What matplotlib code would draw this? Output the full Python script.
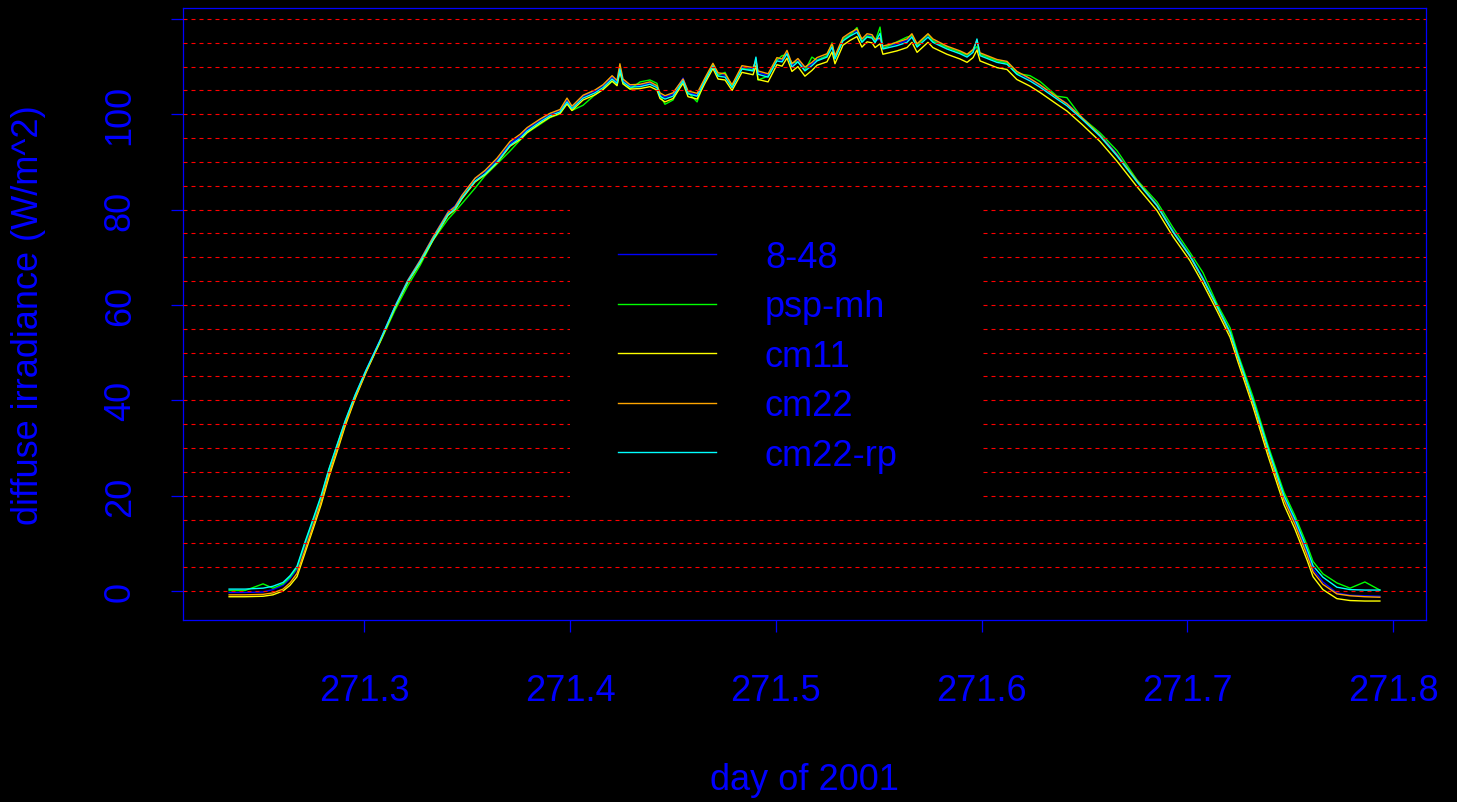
import matplotlib
matplotlib.use('Agg')
import matplotlib.pyplot as plt
from matplotlib.patches import Rectangle

plt.rcParams['font.family'] = ['Liberation Sans', 'DejaVu Sans']

# day of year (fractional) shared by all instruments
day = [271.2343, 271.2420, 271.2508, 271.2556, 271.2605, 271.2639, 271.2673, 271.2712, 271.2751, 271.2790,
       271.2828, 271.2867, 271.2906, 271.2955, 271.3008, 271.3076, 271.3149, 271.3212, 271.3271, 271.3334,
       271.3407, 271.3441, 271.3475, 271.3538, 271.3586, 271.3645, 271.3708, 271.3757, 271.3791, 271.3854,
       271.3902, 271.3951, 271.3985, 271.4009, 271.4063, 271.4121, 271.4160, 271.4204, 271.4228, 271.4242,
       271.4257, 271.4291, 271.4340, 271.4388, 271.4422, 271.4437, 271.4461, 271.4500, 271.4549, 271.4573,
       271.4617, 271.4655, 271.4694, 271.4719, 271.4753, 271.4787, 271.4835, 271.4889, 271.4903, 271.4913,
       271.4962, 271.5005, 271.5030, 271.5054, 271.5078, 271.5107, 271.5141, 271.5175, 271.5200, 271.5248,
       271.5273, 271.5287, 271.5326, 271.5360, 271.5394, 271.5418, 271.5443, 271.5467, 271.5482, 271.5506,
       271.5520, 271.5588, 271.5637, 271.5661, 271.5686, 271.5739, 271.5763, 271.5831, 271.5895, 271.5929,
       271.5958, 271.5977, 271.5992, 271.6074, 271.6123, 271.6171, 271.6235, 271.6283, 271.6366, 271.6414,
       271.6487, 271.6575, 271.6657, 271.6755, 271.6852, 271.6930, 271.7012, 271.7075, 271.7143, 271.7207,
       271.7245, 271.7318, 271.7391, 271.7469, 271.7522, 271.7581, 271.7610, 271.7658, 271.7726, 271.7790,
       271.7862, 271.7935]

s_848 = [-0.3, -0.3, -0.2, 0.3, 1.2, 2.6, 4.6, 9.6, 14.5, 19.5,
         25.2, 30.3, 35.4, 41.0, 46.3, 52.6, 59.8, 65.3, 69.4, 74.3,
         79.6, 80.8, 83.1, 86.5, 88.0, 90.5, 93.9, 95.4, 96.9, 98.8,
         100.0, 100.9, 102.9, 101.6, 103.8, 104.9, 106.0, 107.8, 106.9, 109.7,
         107.2, 106.0, 106.1, 106.6, 105.9, 104.2, 103.6, 104.2, 107.6, 104.6,
         104.0, 107.4, 110.4, 108.4, 108.2, 106.0, 109.9, 109.5, 111.0, 108.8,
         108.2, 111.6, 111.3, 113.0, 110.3, 111.5, 109.6, 110.6, 111.5, 112.3,
         114.5, 112.0, 115.8, 116.8, 117.6, 115.4, 116.6, 116.4, 115.4, 115.8,
         114.0, 114.8, 115.5, 116.6, 114.5, 116.6, 115.5, 114.1, 113.1, 112.4,
         113.4, 114.0, 112.7, 111.3, 110.9, 108.8, 107.4, 106.1, 103.6, 102.3,
         99.4, 95.8, 91.7, 86.2, 81.1, 75.6, 70.5, 65.7, 60.0, 54.4,
         49.4, 40.0, 29.9, 19.7, 14.6, 8.1, 4.6, 1.9, -0.4, -0.9,
         -1.0, -1.1]

s_pspmh = [0.1, 0.1, 1.5, 0.6, 1.5, 2.9, 4.9, 10.0, 14.8, 19.7,
           25.4, 30.4, 35.4, 40.9, 46.1, 52.1, 58.9, 64.1, 68.3, 73.6,
           78.0, 79.6, 81.3, 84.5, 87.1, 89.6, 92.3, 94.6, 96.1, 97.9,
           99.3, 100.1, 102.2, 100.8, 101.9, 104.1, 105.2, 106.9, 106.1, 109.2,
           106.4, 105.3, 106.8, 107.2, 106.5, 104.0, 102.1, 103.0, 107.0, 104.6,
           102.6, 107.2, 110.3, 108.2, 108.8, 105.8, 109.6, 109.3, 111.6, 107.2,
           108.0, 111.4, 112.3, 112.5, 110.8, 111.0, 109.2, 112.0, 111.3, 112.3,
           115.0, 111.8, 115.7, 116.6, 118.2, 115.3, 116.4, 116.2, 115.2, 118.3,
           113.8, 115.2, 116.2, 116.5, 114.4, 116.8, 115.4, 114.0, 113.0, 112.4,
           113.5, 114.2, 112.6, 111.2, 110.8, 108.6, 108.1, 106.9, 103.8, 103.5,
           99.3, 96.1, 92.4, 86.2, 81.6, 76.2, 71.0, 66.8, 60.3, 55.2,
           49.8, 40.8, 30.6, 20.7, 15.8, 9.6, 6.2, 3.6, 1.7, 0.6,
           1.9, 0.2]

s_cm11 = [-1.2, -1.2, -1.1, -0.8, 0.0, 1.2, 3.0, 8.0, 13.0, 18.1,
          23.9, 29.1, 34.5, 40.3, 45.8, 52.2, 59.4, 64.8, 68.8, 73.6,
          78.8, 80.0, 82.3, 85.8, 87.3, 89.8, 93.3, 94.7, 96.2, 98.1,
          99.4, 100.2, 102.2, 100.8, 103.0, 104.1, 105.2, 107.0, 106.0, 109.0,
          106.4, 105.3, 105.4, 105.8, 105.1, 103.3, 102.6, 103.3, 106.5, 103.7,
          103.2, 106.5, 109.6, 107.4, 107.2, 105.0, 108.8, 108.3, 110.2, 107.3,
          106.8, 110.4, 110.1, 111.8, 109.0, 110.0, 108.0, 109.2, 110.3, 111.0,
          113.1, 110.6, 114.5, 115.5, 116.3, 114.1, 115.2, 115.0, 114.0, 114.8,
          112.6, 113.3, 114.0, 115.1, 113.0, 115.1, 114.0, 112.6, 111.6, 110.9,
          111.9, 113.5, 111.2, 109.8, 109.4, 107.3, 105.9, 104.6, 102.1, 100.7,
          97.9, 94.3, 90.2, 84.8, 79.8, 74.3, 69.3, 64.5, 58.8, 53.2,
          48.1, 38.7, 28.4, 18.1, 13.0, 6.5, 3.0, 0.3, -1.6, -2.0,
          -2.1, -2.1]

s_cm22 = [-0.8, -0.8, -0.7, -0.4, 0.4, 1.7, 3.7, 8.6, 13.6, 18.7,
          24.5, 29.6, 34.9, 40.6, 46.0, 52.4, 59.6, 65.2, 69.3, 74.2,
          79.4, 80.6, 83.0, 86.6, 88.2, 90.8, 94.3, 95.8, 97.2, 99.0,
          100.2, 101.0, 103.4, 101.7, 104.0, 105.1, 106.2, 108.1, 107.1, 110.6,
          107.4, 106.2, 106.3, 106.8, 106.0, 104.5, 103.9, 104.5, 107.4, 104.9,
          104.4, 107.6, 110.7, 108.7, 108.5, 106.2, 110.2, 109.8, 111.2, 109.1,
          108.5, 111.9, 111.6, 113.4, 110.6, 111.7, 109.9, 110.9, 111.9, 112.7,
          114.8, 112.3, 116.1, 117.1, 117.9, 115.8, 116.9, 116.7, 115.7, 116.0,
          114.3, 115.1, 115.8, 116.9, 114.8, 116.9, 115.8, 114.3, 113.3, 112.6,
          113.6, 115.5, 112.9, 111.5, 111.1, 109.0, 107.5, 106.2, 103.6, 102.2,
          99.3, 95.6, 91.5, 86.0, 80.9, 75.3, 70.2, 65.4, 59.6, 54.0,
          48.9, 39.5, 29.3, 19.1, 14.0, 7.5, 4.0, 1.4, -0.6, -1.0,
          -1.2, -1.3]

s_cm22rp = [0.4, 0.4, 0.6, 1.0, 1.8, 3.2, 5.2, 10.3, 15.1, 20.0,
            25.6, 30.6, 35.6, 41.1, 46.3, 52.5, 59.6, 65.0, 69.0, 73.8,
            79.0, 80.2, 82.5, 86.0, 87.5, 90.0, 93.5, 95.0, 96.5, 98.4,
            99.7, 100.5, 102.6, 101.2, 103.4, 104.5, 105.6, 107.4, 106.5, 109.5,
            106.8, 105.7, 105.8, 106.3, 105.6, 103.8, 103.2, 103.8, 107.0, 104.3,
            103.8, 107.0, 110.1, 108.0, 107.8, 105.6, 109.5, 109.1, 112.0, 108.4,
            107.8, 111.2, 111.0, 112.7, 109.9, 111.0, 109.1, 110.2, 111.2, 112.0,
            114.1, 111.6, 115.4, 116.4, 117.2, 115.1, 116.2, 116.0, 115.0, 117.0,
            113.7, 114.4, 115.1, 116.2, 114.1, 116.2, 115.1, 113.7, 112.7, 112.0,
            113.0, 115.8, 112.3, 110.9, 110.5, 108.4, 107.0, 105.7, 103.2, 101.8,
            99.0, 95.4, 91.3, 85.8, 80.8, 75.3, 70.3, 65.5, 59.8, 54.3,
            49.3, 40.0, 30.0, 20.0, 15.1, 8.8, 5.3, 2.9, 0.8, 0.3,
            0.2, 0.2]

series_names = ['8-48', 'psp-mh', 'cm11', 'cm22', 'cm22-rp']
series_colors = ['#0000ff', '#00ff00', '#ffff00', '#ffa500', '#00ffff']
series_data = [s_848, s_pspmh, s_cm11, s_cm22, s_cm22rp]

x_ticks = [271.3, 271.4, 271.5, 271.6, 271.7, 271.8]
y_ticks = [0, 20, 40, 60, 80, 100, 120]
y_ticklabels = ['0', '20', '40', '60', '80', '100', '']
grid_levels = list(range(0, 121, 5))

W, H = 1457, 803
fig = plt.figure(figsize=(W / 100, H / 100), dpi=100, facecolor='black')
ax = fig.add_axes([183 / W, 1 - 621 / H, (1426 - 183) / W, (621 - 9) / H])
ax.set_facecolor('black')

lines = []
for name, col, vals in zip(series_names, series_colors, series_data):
    ln, = ax.plot(day, vals, color=col, lw=1.0, label=name, zorder=2)
    lines.append(ln)

# dashed red reference lines, drawn over the curves
for v in grid_levels:
    ax.axhline(v, color='#ff0000', lw=0.8, ls=(0, (3.6, 3.6)), zorder=3, snap=True)

# black legend box hides the grid behind it
ax.add_patch(Rectangle((271.4, 19.3), 0.2006, 60.8, facecolor='black',
                       edgecolor='none', zorder=4))
leg = ax.legend(lines, series_names, loc='upper left',
                bbox_to_anchor=(618 / W, 1 - 241 / H), bbox_transform=fig.transFigure,
                frameon=False, fontsize=26, labelcolor='blue',
                handlelength=2.71, handletextpad=1.36, labelspacing=0.40,
                borderpad=0, borderaxespad=0)
leg.set_zorder(5)

ax.set_xlim(271.2119, 271.8159)
ax.set_ylim(-6.08, 122.3)
ax.set_xticks(x_ticks)
ax.set_xticklabels([str(t) for t in x_ticks])
ax.set_yticks(y_ticks)
ax.set_yticklabels(y_ticklabels, rotation=90, va='center')

for sp in ax.spines.values():
    sp.set_color('blue')
    sp.set_linewidth(0.9)

ax.tick_params(axis='both', direction='out', length=8.6, width=0.9,
               color='blue', labelcolor='blue', labelsize=26)
ax.tick_params(axis='x', pad=29.6)
ax.tick_params(axis='y', pad=24)

xl = ax.set_xlabel('day of 2001', fontsize=26, color='blue')
ax.xaxis.set_label_coords(0.5, -(781 - 621) / 612)
xl.set_va('center')
yl = ax.set_ylabel('diffuse irradiance (W/m^2)', fontsize=26, color='blue')
ax.yaxis.set_label_coords(-(183 - 29) / 1243, 0.5)
yl.set_va('center')

fig.savefig('out.png', dpi=100, facecolor='black')
